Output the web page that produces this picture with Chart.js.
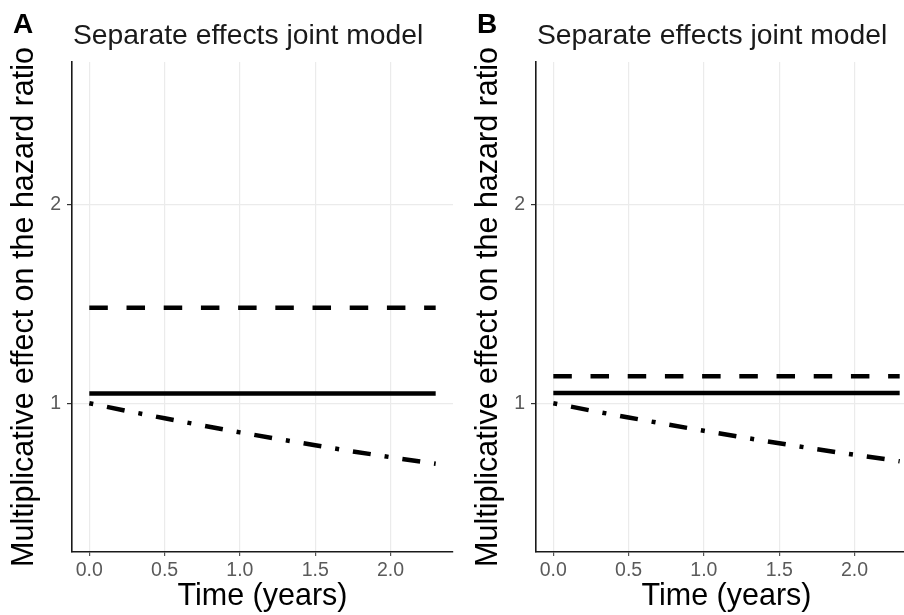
<!DOCTYPE html>
<html>
<head>
<meta charset="utf-8">
<script src="https://cdn.jsdelivr.net/npm/chart.js@4.4.1/dist/chart.umd.min.js"></script>
<style>
  html, body { margin: 0; padding: 0; background: #fff; }
  body { width: 904px; height: 615px; overflow: hidden; position: relative; }
  canvas { position: absolute; top: 0; }
  #panelA { left: 0; }
  #panelB { left: 464px; }
</style>
</head>
<body>
<canvas id="panelA" width="460" height="615"></canvas>
<canvas id="panelB" width="460" height="615"></canvas>
<script>
// values
const panelLetters = ["A", "B"];
const panelTitle = "Separate effects joint model";
const xTitle = "Time (years)";
const yTitle = "Multiplicative effect on the hazard ratio";

const xTicks = [0, 0.5, 1, 1.5, 2];
const xTickLabels = ["0.0", "0.5", "1.0", "1.5", "2.0"];
const yTicks = [1, 2];
const yTickLabels = ["1", "2"];

// flat lines only need their two end points
const flatTimes = [0, 2.3];
const curveTimes = [0, 0.25, 0.5, 0.75, 1, 1.25, 1.5, 1.75, 2, 2.25, 2.3];

const aSolid = [1.049, 1.049];
const aDashed = [1.481, 1.481];
const aDotDash = [1.0, 0.961, 0.924, 0.888, 0.853, 0.820, 0.788, 0.757, 0.728, 0.700, 0.695];

const bSolid = [1.052, 1.052];
const bDashed = [1.136, 1.136];
const bDotDash = [1.0, 0.963, 0.928, 0.894, 0.861, 0.829, 0.798, 0.768, 0.740, 0.713, 0.707];

const FONT = "'Liberation Sans', Arial, Helvetica, sans-serif";

function pts(xs, ys) {
  return xs.map((x, i) => ({ x: x, y: ys[i] }));
}

// draws the panel letter and the title above the plot
const headerPlugin = {
  id: "header",
  afterDraw(chart, args, opts) {
    const ctx = chart.ctx;
    ctx.save();
    ctx.fillStyle = "#000";
    ctx.textBaseline = "alphabetic";
    ctx.textAlign = "left";
    ctx.font = "bold 28px " + FONT;
    ctx.fillText(opts.letter, 13, 33);
    ctx.fillStyle = "#1a1a1a";
    ctx.font = "28.3px " + FONT;
    ctx.fillText(panelTitle, chart.chartArea.left + 1, 44);
    ctx.restore();
  }
};

function makePanel(id, letter, solid, dashed, dotdash) {
  const ctx = document.getElementById(id).getContext("2d");
  const line = {
    pointRadius: 0,
    borderColor: "#000",
    borderWidth: 4.5,
    borderCapStyle: "butt",
    fill: false,
    tension: 0
  };
  return new Chart(ctx, {
    type: "line",
    data: {
      datasets: [
        Object.assign({ data: pts(flatTimes, dashed), borderDash: [18.5, 18.7] }, line),
        Object.assign({ data: pts(flatTimes, solid), borderDash: [] }, line),
        Object.assign({ data: pts(curveTimes, dotdash), borderDash: [4, 14, 18, 14] }, line)
      ]
    },
    options: {
      responsive: false,
      animation: false,
      devicePixelRatio: 1,
      layout: { padding: { top: 62, right: 7, left: 0, bottom: 0 } },
      plugins: {
        legend: { display: false },
        tooltip: { enabled: false },
        header: { letter: letter }
      },
      scales: {
        x: {
          type: "linear",
          min: -0.115,
          max: 2.415,
          afterBuildTicks: s => { s.ticks = xTicks.map(v => ({ value: v })); },
          afterFit: s => { s.height = 63; },
          grid: { color: "#ebebeb", lineWidth: 1.2, tickColor: "#555", tickLength: 4 },
          border: { color: "#1a1a1a", width: 1.6 },
          ticks: {
            color: "#5a5a5a",
            padding: 3,
            maxRotation: 0,
            font: { family: FONT, size: 19.5 },
            callback: (v) => xTickLabels[xTicks.indexOf(v)]
          },
          title: {
            display: true,
            text: xTitle,
            color: "#000",
            font: { family: FONT, size: 30.5 },
            padding: { top: 0, bottom: 0 }
          }
        },
        y: {
          type: "linear",
          min: 0.25,
          max: 2.72,
          afterBuildTicks: s => { s.ticks = yTicks.map(v => ({ value: v })); },
          afterFit: s => { s.width = 72; },
          grid: { color: "#ebebeb", lineWidth: 1.2, tickColor: "#333", tickLength: 5 },
          border: { color: "#1a1a1a", width: 1.6 },
          ticks: {
            color: "#5a5a5a",
            padding: 6,
            font: { family: FONT, size: 19.5 },
            callback: (v) => yTickLabels[yTicks.indexOf(v)]
          },
          title: {
            display: true,
            text: yTitle,
            color: "#000",
            font: { family: FONT, size: 30.5, lineHeight: 1 },
            padding: { top: 9, bottom: 0 }
          }
        }
      }
    },
    plugins: [headerPlugin]
  });
}

makePanel("panelA", panelLetters[0], aSolid, aDashed, aDotDash);
makePanel("panelB", panelLetters[1], bSolid, bDashed, bDotDash);
</script>
</body>
</html>
